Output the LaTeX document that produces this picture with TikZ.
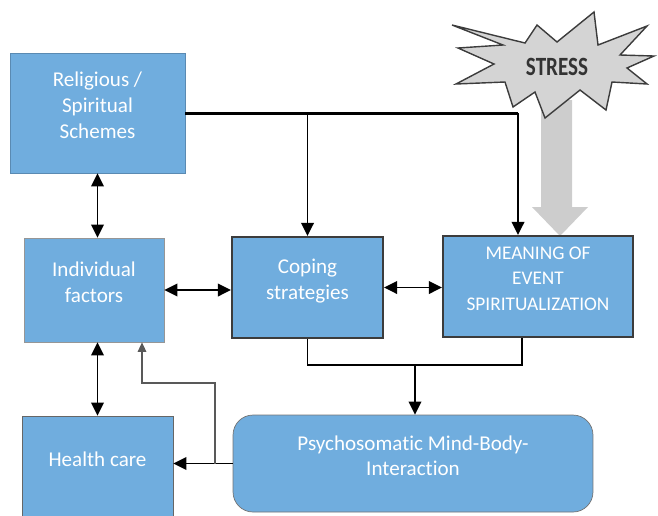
\documentclass[tikz,border=0pt]{standalone}
\usepackage{fontspec}
\setmainfont{Carlito}[Ligatures={NoCommon}]
\usetikzlibrary{arrows.meta, positioning, calc}
\definecolor{cBox}{RGB}{112,173,222}
\definecolor{cEdge}{RGB}{60,60,60}
\definecolor{cSoft}{RGB}{150,150,150}
\definecolor{cStress}{RGB}{212,212,212}
\definecolor{cBigArrow}{RGB}{205,205,205}
\tikzset{
	blk/.style   ={rectangle, draw=cSoft, fill=cBox, text=white, align=center, font=\fontsize{12}{14.7}\selectfont, text depth=9pt},
	blkdark/.style={blk, draw=cEdge, line width=1.2pt},
	sig/.style   ={-{Triangle[length=2.6mm, width=2.5mm]}, line width=1.1pt},
	dsig/.style  ={{Triangle[length=2.6mm, width=2.5mm]}-{Triangle[length=2.6mm, width=2.5mm]}, line width=1.1pt},
	fb/.style    ={-{Triangle[length=1.9mm, width=1.7mm]}, line width=0.8pt, draw=black!65},
}
\begin{document}
\begin{tikzpicture}[x=0.02cm, y=-0.02cm]
	\clip (0,0) rectangle (658,515);
	% big stress arrow, then the burst on top of it
	\fill[cBigArrow] (541,100) -- (572,100) -- (572,207) -- (588,207) -- (560,236) -- (532,207) -- (541,207) -- cycle;
	\draw[cEdge, line width=0.8pt, fill=cStress] (452,25) -- (525,43) -- (537,25) -- (557,42) -- (594,12) -- (598,45) -- (647,26) -- (620,55) -- (654,56) -- (627,68) -- (647,84) -- (612,82) -- (606,110) -- (580,90) -- (545,118) -- (535,92) -- (513,107) -- (505,82) -- (456,84) -- (494,64) -- (458,48) -- (503,45) -- cycle;
	\node (stress) at (557,67) {\fontsize{15}{15}\selectfont\bfseries\color{black!80}\scalebox{0.8}[1]{STRESS}};

	\node[blk, draw=cBox!80!black, minimum width=3.5cm, minimum height=2.4cm] (rel) at (97.5,113) {Religious /\\Spiritual\\Schemes};
	\node[blk, minimum width=2.8cm, minimum height=2.08cm] (ind) at (94,290) {Individual\\factors};
	\node[blkdark, minimum width=3.02cm, minimum height=2.02cm] (cop) at (307.5,287.5) {Coping\\strategies};
	\node[blkdark, minimum width=3.8cm, minimum height=2.02cm, font=\fontsize{11}{14.7}\selectfont] (mea) at (538,286.5) {MEANING OF\\EVENT\\SPIRITUALIZATION};
	\node[blk, draw=black!60, minimum width=3.02cm, minimum height=2.04cm] (hea) at (97.5,467) {Health care};
	\node[blk, draw=black!55, rounded corners=0.4cm, minimum width=7.2cm, minimum height=1.94cm] (psy) at (413,463.5) {Psychosomatic Mind-Body-\\Interaction};

	% links from the schemes box
	\coordinate (tr) at (518,113);
	\draw[line width=1.7pt] (rel.east) -- (tr);
	\draw[sig] (tr) -- (tr |- mea.north);
	\draw[sig] (rel.east -| cop.north) -- (cop.north);
	\draw[dsig] (rel.south) -- (rel.south |- ind.north);

	% middle row
	\draw[dsig] (ind.east) -- (ind.east -| cop.west);
	\draw[dsig] (cop.east) -- (cop.east -| mea.west);

	% into the psychosomatic box
	\coordinate (jn) at (415,365);
	\coordinate (mb) at (522,365);
	\draw[line width=1.1pt] (cop.south) |- (mb) -- (mb |- mea.south);
	\draw[sig] (jn) -- (jn |- psy.north);

	% bottom row
	\draw[dsig] (hea.north |- ind.south) -- (hea.north);
	\draw[sig] (psy.west) -- (psy.west -| hea.east);
	\coordinate (bj) at (215,383);
	\coordinate (bk) at (142,383);
	\draw[fb] (bj |- psy.west) -- (bj) -- (bk) -- (bk |- ind.south);
\end{tikzpicture}
\end{document}
